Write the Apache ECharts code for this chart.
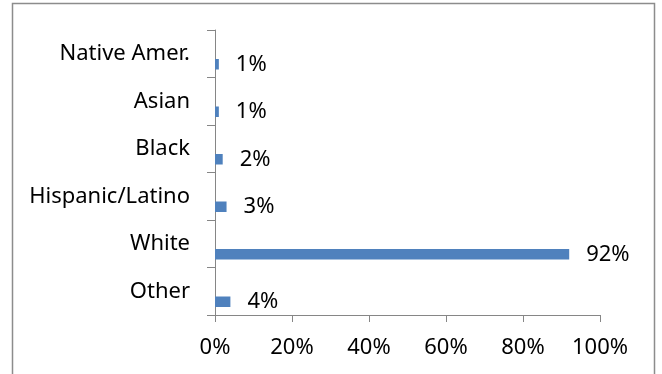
<!DOCTYPE html>
<html>
<head>
<meta charset="utf-8">
<script src="https://cdn.jsdelivr.net/npm/echarts@6/dist/echarts.min.js"></script>
<style>
  html, body { margin: 0; padding: 0; background: #fff; }
  #chart { width: 662px; height: 374px; }
</style>
</head>
<body>
<div id="chart"></div>
<script>
// Categories listed bottom to top
const categories = ['Other', 'White', 'Hispanic/Latino', 'Black', 'Asian', 'Native Amer.'];
// Share of each group, in percent
const shares = [4, 92, 3, 2, 1, 1];
// Empty companion series that reserves the upper slot in each band
const blankSlot = [null, null, null, null, null, null];
// Value axis tick labels
const xTicks = [0, 20, 40, 60, 80, 100];

const FONT = 'Noto Sans';
const AXIS_GREY = '#868686';

const chart = echarts.init(document.getElementById('chart'), null, { renderer: 'canvas' });

chart.setOption({
  animation: false,
  backgroundColor: '#ffffff',
  textStyle: { fontFamily: FONT },
  graphic: [{
    type: 'rect',
    shape: { x: 12.5, y: 3.5, width: 642, height: 400 },
    style: { fill: 'none', stroke: '#8c8c8c', lineWidth: 1.5 },
    silent: true
  }],
  grid: { left: 215, right: 62, top: 30, bottom: 59, containLabel: false },
  xAxis: {
    type: 'value',
    min: xTicks[0],
    max: xTicks[xTicks.length - 1],
    interval: xTicks[1] - xTicks[0],
    axisLine: { show: true, lineStyle: { color: AXIS_GREY, width: 1 } },
    axisTick: { show: true, length: 7, lineStyle: { color: AXIS_GREY } },
    splitLine: { show: false },
    axisLabel: {
      margin: 22,
      color: '#000',
      fontFamily: FONT,
      fontSize: 22,
      formatter: v => v + '%'
    }
  },
  yAxis: {
    type: 'category',
    data: categories,
    axisLine: { show: true, lineStyle: { color: AXIS_GREY, width: 1 } },
    axisTick: { show: true, length: 8, lineStyle: { color: AXIS_GREY } },
    axisLabel: {
      margin: 25,
      color: '#000',
      fontFamily: FONT,
      fontSize: 22
    }
  },
  series: [
    {
      name: 'blank',
      type: 'bar',
      data: blankSlot,
      barWidth: 10.5,
      barGap: '100%'
    },
    {
      name: 'Share',
      type: 'bar',
      data: shares,
      barWidth: 10.5,
      barGap: '100%',
      itemStyle: { color: '#4F81BD' },
      label: {
        show: true,
        position: 'right',
        distance: 17,
        color: '#000',
        fontFamily: FONT,
        fontSize: 22,
        formatter: p => p.value + '%'
      }
    }
  ]
});
</script>
</body>
</html>
